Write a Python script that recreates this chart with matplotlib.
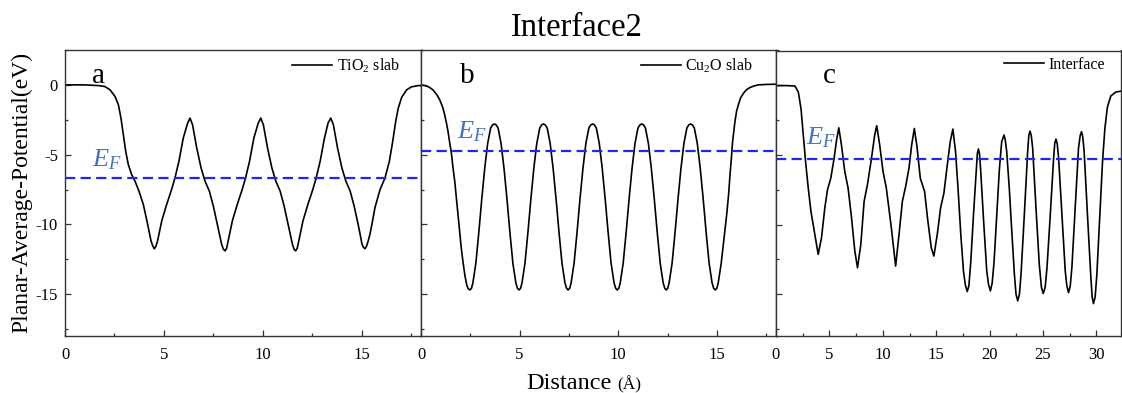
import matplotlib
matplotlib.use("Agg")
import matplotlib.pyplot as plt
from matplotlib.ticker import MultipleLocator

plt.rcParams['font.family'] = ['Liberation Serif', 'DejaVu Serif']
plt.rcParams['mathtext.fontset'] = 'custom'
plt.rcParams['mathtext.rm'] = 'Liberation Serif'
plt.rcParams['mathtext.it'] = 'Liberation Serif:italic'
plt.rcParams['axes.unicode_minus'] = False

# ---------------- data ----------------
tio2_x = [0.0, 1.0, 1.69, 2.02, 2.28, 2.53, 2.70, 2.83, 2.95, 3.07, 3.20, 3.37, 3.54, 3.74, 3.96, 4.18, 4.35,
          4.44, 4.52, 4.60, 4.68, 4.89, 5.14, 5.39, 5.56, 5.76, 5.98, 6.20, 6.32, 6.45, 6.66, 6.88, 7.08,
          7.30, 7.50, 7.72, 7.92, 8.01, 8.09, 8.17, 8.25, 8.46, 8.71, 8.96, 9.13, 9.33, 9.55, 9.77, 9.90,
          10.03, 10.24, 10.46, 10.66, 10.88, 11.08, 11.30, 11.50, 11.58, 11.66, 11.74, 11.82, 12.03, 12.28,
          12.53, 12.70, 12.90, 13.12, 13.30, 13.44, 13.57, 13.78, 14.00, 14.20, 14.42, 14.62, 14.84, 15.02,
          15.09, 15.17, 15.25, 15.33, 15.42, 15.55, 15.67, 15.93, 16.18, 16.40, 16.57, 16.72, 16.85, 17.02,
          17.27, 17.52, 17.86, 18.0]
tio2_y = [0.0, 0.0, -0.05, -0.12, -0.36, -0.83, -1.43, -2.38, -3.57, -4.76, -5.71, -6.43, -6.90, -7.62, -8.57,
          -10.0, -11.19, -11.55, -11.75, -11.55, -11.19, -9.76, -8.57, -7.50, -6.67, -5.48, -3.81, -2.74,
          -2.38, -2.86, -4.52, -5.95, -6.90, -7.62, -8.69, -10.12, -11.43, -11.78, -11.90, -11.72, -11.19,
          -9.76, -8.57, -7.50, -6.67, -5.48, -3.81, -2.74, -2.38, -2.86, -4.52, -5.95, -6.90, -7.62, -8.69,
          -10.12, -11.43, -11.78, -11.90, -11.72, -11.19, -9.76, -8.57, -7.50, -6.67, -5.48, -3.81, -2.74,
          -2.38, -2.86, -4.52, -5.95, -6.90, -7.62, -8.69, -10.12, -11.43, -11.65, -11.75, -11.55, -11.19,
          -10.7, -9.76, -8.81, -7.50, -6.67, -5.48, -4.05, -2.62, -1.67, -0.90, -0.36, -0.14, -0.05, -0.05]

cu2o_x = [0.0, 0.2, 0.4, 0.6, 0.8, 0.95, 1.1, 1.2, 1.3, 1.37, 1.45, 1.54, 1.62, 1.71, 1.8, 1.88, 1.96, 2.04,
          2.13, 2.23, 2.33, 2.40,
          2.48, 2.56, 2.63, 2.78, 2.93, 3.08, 3.23, 3.38, 3.53, 3.62, 3.72, 3.82, 3.91, 4.06, 4.21, 4.36,
          4.51, 4.66, 4.81, 4.89,
          4.97, 5.05, 5.12, 5.27, 5.42, 5.57, 5.72, 5.87, 6.02, 6.11, 6.21, 6.31, 6.40, 6.55, 6.70, 6.85,
          7.00, 7.15, 7.30, 7.38,
          7.46, 7.54, 7.61, 7.76, 7.91, 8.06, 8.21, 8.36, 8.51, 8.60, 8.70, 8.80, 8.89, 9.04, 9.19, 9.34,
          9.49, 9.64, 9.79, 9.87,
          9.95, 10.03, 10.10, 10.25, 10.40, 10.55, 10.70, 10.85, 11.00, 11.09, 11.19, 11.29, 11.38, 11.53,
          11.68, 11.83, 11.98, 12.13, 12.28, 12.36,
          12.43, 12.51, 12.58, 12.73, 12.88, 13.03, 13.18, 13.33, 13.48, 13.57, 13.67, 13.77, 13.86, 14.01,
          14.16, 14.31, 14.46, 14.61, 14.76, 14.84,
          14.92, 15.00, 15.07, 15.22, 15.37, 15.5, 15.6, 15.67, 15.74, 15.8, 15.92, 16.0, 16.09, 16.2, 16.35,
          16.5, 16.68, 16.9, 17.1, 17.5, 18.0]
cu2o_y = [0.0, -0.05, -0.15, -0.35, -0.7, -1.07, -1.6, -2.14, -2.8, -3.33, -4.1, -4.88, -5.9, -6.9, -8.2,
          -9.29, -10.5, -11.67, -12.7, -13.7, -14.4, -14.62,
          -14.7, -14.58, -14.2, -12.8, -10.6, -8.2, -6.0, -4.2, -3.1, -2.88, -2.8, -2.88, -3.1, -4.2, -6.0,
          -8.2, -10.6, -12.8, -14.2, -14.58,
          -14.7, -14.58, -14.2, -12.8, -10.6, -8.2, -6.0, -4.2, -3.1, -2.88, -2.8, -2.88, -3.1, -4.2, -6.0,
          -8.2, -10.6, -12.8, -14.2, -14.58,
          -14.7, -14.58, -14.2, -12.8, -10.6, -8.2, -6.0, -4.2, -3.1, -2.88, -2.8, -2.88, -3.1, -4.2, -6.0,
          -8.2, -10.6, -12.8, -14.2, -14.58,
          -14.7, -14.58, -14.2, -12.8, -10.6, -8.2, -6.0, -4.2, -3.1, -2.88, -2.8, -2.88, -3.1, -4.2, -6.0,
          -8.2, -10.6, -12.8, -14.2, -14.58,
          -14.7, -14.58, -14.2, -12.8, -10.6, -8.2, -6.0, -4.2, -3.1, -2.88, -2.8, -2.88, -3.1, -4.2, -6.0,
          -8.2, -10.6, -12.8, -14.2, -14.58,
          -14.7, -14.58, -14.2, -12.8, -10.9, -9.3, -7.8, -6.4, -5.2, -4.05, -2.62, -1.9, -1.43, -0.95, -0.6,
          -0.35, -0.19, -0.07, 0.0, 0.03, 0.05]

intf_x = [0.0, 1.0, 1.77, 2.09, 2.34, 2.55, 2.77, 3.02, 3.27, 3.48, 3.70, 3.95, 4.26, 4.57, 4.82, 5.13, 5.44,
          5.67, 5.88, 6.13, 6.44, 6.75, 7.07, 7.38, 7.63, 7.94, 8.25, 8.56, 8.94, 9.24, 9.43, 9.71, 10.02,
          10.33, 10.8, 11.2, 11.52, 11.83, 12.14, 12.45, 12.7, 12.95, 13.2, 13.51, 13.91, 14.22, 14.54, 14.78,
          15.1, 15.41, 15.72, 16.0, 16.31, 16.56, 16.81, 17.06, 17.3, 17.55, 17.72, 17.9, 18.06, 18.24, 18.49,
          18.74, 18.85, 18.95, 19.05, 19.17, 19.42, 19.73, 19.9, 20.07, 20.24, 20.42, 20.67, 20.92, 21.13,
          21.24, 21.35, 21.46, 21.6, 21.85, 22.0, 22.32, 22.47, 22.63, 22.79, 22.94, 23.25, 23.56, 23.67,
          23.78, 23.9, 24.03, 24.34, 24.65, 24.85, 25.02, 25.2, 25.37, 25.68, 25.99, 26.1, 26.21, 26.33,
          26.46, 26.77, 27.08, 27.23, 27.39, 27.55, 27.7, 28.01, 28.32, 28.48, 28.6, 28.72, 28.85, 29.16,
          29.48, 29.6, 29.72, 29.88, 30.04, 30.32, 30.57, 30.79, 31.03, 31.35, 31.82, 32.31]
intf_y = [-0.02, -0.02, -0.05, -0.48, -1.67, -3.57, -5.48, -7.38, -9.05, -10.0, -10.95, -12.14, -10.95, -8.8,
          -7.5, -6.67, -5.24, -3.93, -3.05, -4.29, -6.19, -7.38, -9.5, -11.9, -13.1, -11.43, -8.33, -7.14,
          -5.24, -3.57, -2.9, -4.29, -6.19, -7.38, -10.24, -12.98, -10.7, -8.33, -7.26, -5.95, -4.29, -3.1,
          -4.4, -6.67, -7.62, -9.76, -11.67, -12.26, -10.7, -8.8, -7.74, -5.95, -4.05, -3.14, -4.76, -7.62,
          -10.7, -13.33, -14.3, -14.81, -14.4, -12.62, -9.29, -6.19, -4.9, -4.57, -4.9, -6.19, -9.52, -13.33,
          -14.3, -14.76, -14.2, -12.62, -9.29, -5.95, -4.05, -3.8, -3.57, -3.9, -4.76, -7.5, -9.52, -13.57,
          -15.0, -15.48, -15.0, -13.57, -9.29, -4.76, -3.6, -3.29, -3.6, -4.52, -8.8, -12.86, -14.5, -14.95,
          -14.5, -13.1, -9.29, -5.24, -4.15, -3.86, -4.2, -5.24, -9.29, -13.33, -14.4, -14.88, -14.4, -13.1,
          -8.8, -4.52, -3.6, -3.33, -3.7, -4.76, -9.29, -13.81, -15.2, -15.67, -15.2, -13.57, -9.29, -5.48,
          -3.1, -1.55, -0.76, -0.48, -0.42]

series_x = [tio2_x, cu2o_x, intf_x]
series_y = [tio2_y, cu2o_y, intf_y]
labels = ['TiO$_2$ slab', 'Cu$_2$O slab', 'Interface']
panel_letters = ['a', 'b', 'c']
fermi = [-6.7, -4.76, -5.3]
xmax = [18.0, 18.0, 32.3]

# ---------------- layout ----------------
W, H = 1122, 393
fig = plt.figure(figsize=(W / 100, H / 100), dpi=100)

def px_axes(l, r, t, b):
    return fig.add_axes([l / W, 1 - b / H, (r - l) / W, (b - t) / H])

boxes = [(65, 421, 50, 336), (421, 776, 50, 336), (776, 1121, 50.5, 336)]
letter_pos = [(1.37, 0.15), (1.98, 0.15), (4.39, 0.15)]
ef_pos = [(1.39, -5.86), (1.84, -3.81), (2.77, -4.21)]
leg_anchor = [(0.941, 0.977), (0.935, 0.977), (0.954, 0.977)]

for i in range(3):
    ax = px_axes(*boxes[i])
    ax.plot(series_x[i], series_y[i], color='black', lw=1.2, label=labels[i],
            solid_joinstyle='round', antialiased=True)
    ax.axhline(fermi[i], color='#2424F2', lw=1.6, ls=(0, (4.6, 2.4)))
    ax.set_xlim(0, xmax[i])
    ax.set_ylim(-18, 2.5)
    ax.xaxis.set_major_locator(MultipleLocator(5))
    ax.xaxis.set_minor_locator(MultipleLocator(2.5))
    ax.yaxis.set_major_locator(MultipleLocator(5))
    ax.yaxis.set_minor_locator(MultipleLocator(2.5))
    ax.tick_params(which='both', direction='in', labelsize=12, width=0.9, colors='#333333',
                   labelcolor='black')
    ax.tick_params(which='major', length=4.5)
    ax.tick_params(which='minor', length=2.5)
    ax.tick_params(axis='x', pad=8)
    ax.tick_params(axis='y', pad=5)
    if i > 0:
        ax.tick_params(axis='y', labelleft=False)
    for s in ax.spines.values():
        s.set_linewidth(1.0)
        s.set_color('#333333')
    ax.text(letter_pos[i][0], letter_pos[i][1], panel_letters[i], fontsize=21,
            ha='left', va='baseline')
    ax.text(ef_pos[i][0], ef_pos[i][1], '$E_F$', fontsize=19, color='#4472C4',
            ha='left', va='baseline')
    ax.legend(loc='upper right', bbox_to_anchor=leg_anchor[i], frameon=False, fontsize=11.5,
              handlelength=2.5, handletextpad=0.3, borderpad=0, borderaxespad=0)

fig.text(577 / W, 1 - 36 / H, 'Interface2', fontsize=23.5, ha='center', va='baseline')
fig.text(22 / W, 1 - 192 / H, 'Planar-Average-Potential(eV)', fontsize=17, rotation=90,
         ha='center', va='center')
fig.text(612 / W, 1 - 389 / H, 'Distance', fontsize=17.5, ha='right', va='baseline')
fig.text(617 / W, 1 - 389 / H, '(Å)', fontsize=12.5, ha='left', va='baseline')

fig.savefig('out.png', dpi=100)
